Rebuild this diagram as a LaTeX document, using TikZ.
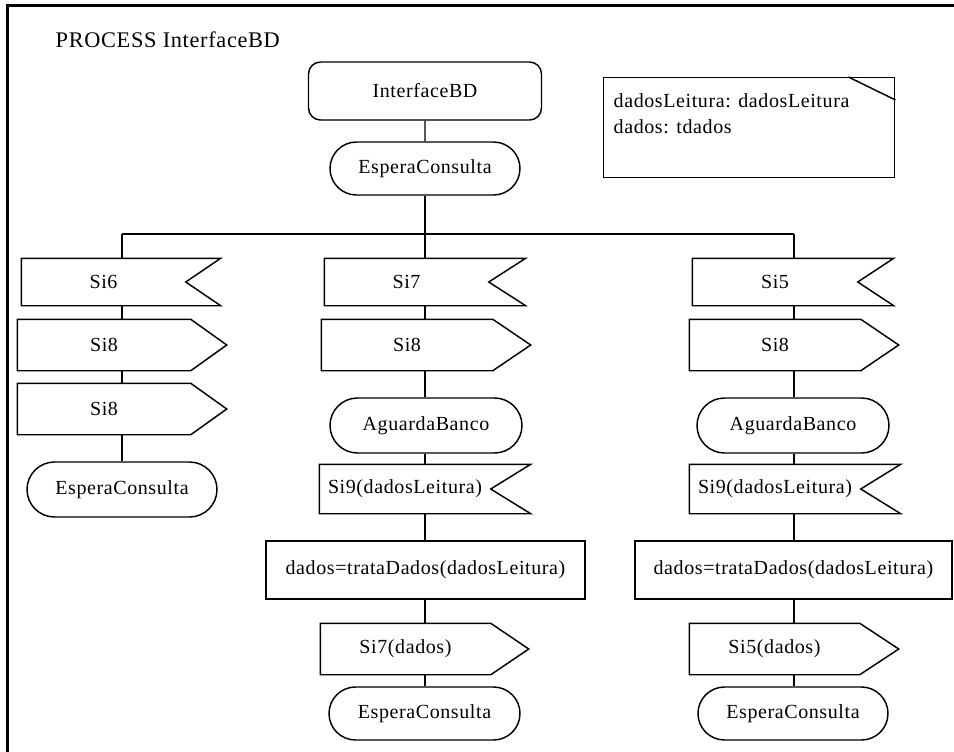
\documentclass[tikz,border=0pt]{standalone}
\usepackage{fontspec}
\setmainfont{Liberation Serif}[LetterSpace=3]
\usetikzlibrary{calc,shapes.misc}
\begin{document}
\begin{tikzpicture}[x=0.75pt,y=-0.75pt,
  line width=1.1pt,
  lbl/.style={font=\fontsize{15pt}{18pt}\selectfont, inner sep=0pt},
  body/.style 2 args={lbl, minimum width=#1*0.75pt, minimum height=#2*0.75pt},
  state/.style 2 args={lbl, draw, rounded rectangle, minimum width=#1*0.75pt, minimum height=#2*0.75pt},
  task/.style 2 args={lbl, draw, rectangle, minimum width=#1*0.75pt, minimum height=#2*0.75pt},
]
\useasboundingbox (0,0) rectangle (954,751);
% process frame
\draw[line width=1.6pt] (7.5,780) -- (7.5,5.5) -- (980,5.5);
\node[anchor=base west, font=\fontsize{16.75pt}{20pt}\selectfont, inner sep=0pt] (title) at (55,47) {PROCESS InterfaceBD};

% declarations
\node[draw, anchor=north west, minimum width=291*0.75pt, minimum height=100*0.75pt, inner sep=0pt] (decl) at (603,77) {};
\draw ($(decl.north east)+(-47,0)$) -- ($(decl.north east)+(0,23)$);
\node[lbl, anchor=base west] (dl1) at (613,107) {dadosLeitura: dadosLeitura};
\node[lbl, anchor=base west] (dl2) at (613,133) {dados: tdados};

% start and first state
\node[lbl, draw, rounded corners=9pt, minimum width=233*0.75pt, minimum height=58*0.75pt] (ib) at (425,91) {InterfaceBD};
\node[state={190}{53}] (e0) at (425,168.5) {EsperaConsulta};
\coordinate (j0) at (425,234);
\coordinate (j1) at (122,234);
\coordinate (j3) at (794,234);

% branch 1
\node[body={163}{46}] (si6) at (103.5,282) {Si6};
\node[body={172}{50}] (s8a) at (104,345) {Si8};
\node[body={172}{50}] (s8b) at (104,409) {Si8};
\node[state={190}{55}] (ec1) at (122,489.5) {EsperaConsulta};

% branch 2
\node[body={163}{46}] (si7) at (406.5,282) {Si7};
\node[body={170}{50}] (s8c) at (407,345) {Si8};
\node[state={192}{55}] (ab1) at (426,425.5) {AguardaBanco};
\node[body={170}{48}] (si9a) at (405,489) {Si9(dadosLeitura)};
\node[task={319}{58}] (td1) at (425.5,570) {dados=trataDados(dadosLeitura)};
\node[body={169}{50}] (s7d) at (405.5,649) {Si7(dados)};
\node[state={191}{53}] (ec2) at (424.5,713.5) {EsperaConsulta};

% branch 3
\node[body={164}{46}] (si5) at (775,282) {Si5};
\node[body={170}{50}] (s8d) at (775,345) {Si8};
\node[state={192}{55}] (ab2) at (793,425.5) {AguardaBanco};
\node[body={170}{48}] (si9b) at (775,489) {Si9(dadosLeitura)};
\node[task={317}{58}] (td2) at (793.5,570) {dados=trataDados(dadosLeitura)};
\node[body={169}{50}] (s5d) at (774.5,649) {Si5(dados)};
\node[state={190}{53}] (ec3) at (793,713.5) {EsperaConsulta};

% input signals: notch on the right side
\foreach \n/\d in {si6/35, si7/37, si5/36, si9a/40, si9b/40}
  \draw (\n.north west) -- ($(\n.north east)+(\d,0)$) -- (\n.east)
        -- ($(\n.south east)+(\d,0)$) -- (\n.south west) -- cycle;
% output signals: point on the right side
\foreach \n/\d in {s8a/36, s8b/36, s8c/38, s7d/38, s8d/38, s5d/39}
  \draw (\n.north west) -- (\n.north east) -- ($(\n.east)+(\d,0)$)
        -- (\n.south east) -- (\n.south west) -- cycle;

% connectors
\draw (ib) -- (e0);
\draw (e0.south) -- (j0);
\draw (j1) -- (j3);
\draw (j1) -- (j1 |- si6.north);
\draw (j0) -- (j0 |- si7.north);
\draw (j3) -- (j3 |- si5.north);
\foreach \a/\b in {si6/s8a, s8a/s8b, s8b/ec1}
  \draw (\a.south -| j1) -- (\b.north -| j1);
\foreach \a/\b in {si7/s8c, s8c/ab1, ab1/si9a, si9a/td1, td1/s7d, s7d/ec2}
  \draw (\a.south -| j0) -- (\b.north -| j0);
\foreach \a/\b in {si5/s8d, s8d/ab2, ab2/si9b, si9b/td2, td2/s5d, s5d/ec3}
  \draw (\a.south -| j3) -- (\b.north -| j3);
\end{tikzpicture}
\end{document}
